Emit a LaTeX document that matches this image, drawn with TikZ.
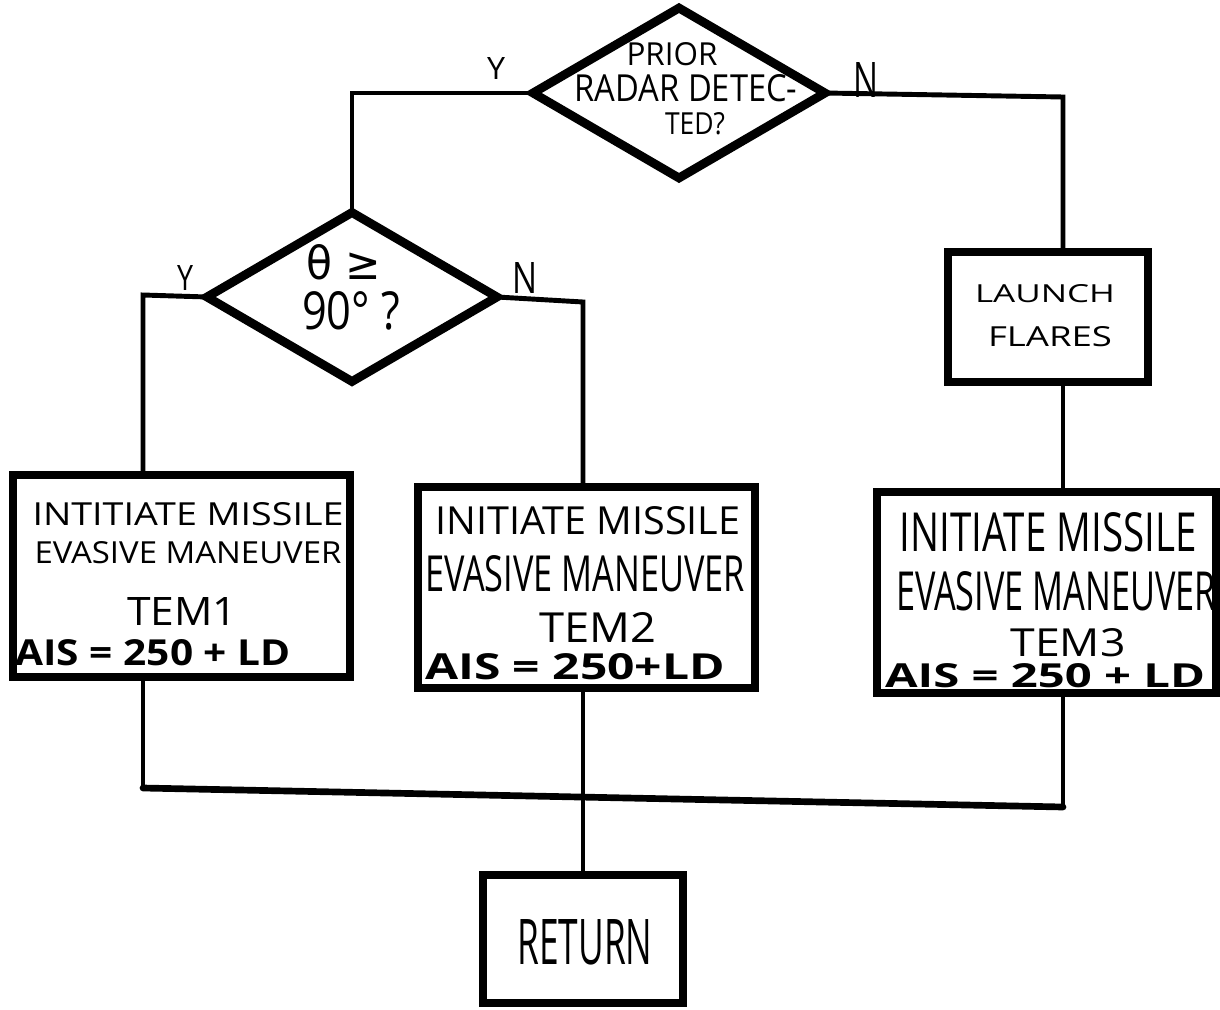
\documentclass[tikz,border=0pt]{standalone}
\usepackage{fontspec}
\usepackage{graphicx}
\setmainfont{Open Sans}
\newfontfamily\symfont{DejaVu Sans}
\usetikzlibrary{shapes.geometric}
% one lettered line squeezed into a given width and cap height
\newcommand{\fitline}[3]{\resizebox{#1}{#2}{#3}}
\begin{document}
\begin{tikzpicture}[x=0.02cm, y=-0.02cm,
  stepbox/.style={draw, rectangle, line width=4.2pt, inner sep=0pt, outer sep=0pt},
  decision/.style={draw, diamond, line width=5pt, inner sep=0pt, outer sep=0pt},
  wire/.style={line width=2.8pt},
  busline/.style={line width=3.8pt, line cap=round},
  txt/.style={inner sep=0pt, outer sep=0pt}]
\fill[white] (0,0) rectangle (1220,1010);
\useasboundingbox (0,0) rectangle (1220,1010);

% decisions
\node[decision, minimum width=5.84cm, minimum height=3.4cm] (d1) at (679,93) {};
\node[txt] (d1a) at (672,54) {\fitline{1.82cm}{0.46cm}{PRIOR}};
\node[txt] (d1b) at (686,88) {\fitline{4.46cm}{0.54cm}{RADAR DETEC-}};
\node[txt] (d1c) at (695,124) {\fitline{1.2cm}{0.44cm}{TED?}};

\node[decision, minimum width=5.8cm, minimum height=3.38cm] (d2) at (352,297) {};
\node[txt] (d2a) at (344,262) {\fitline{1.5cm}{0.7cm}{\symfont θ ≥}};
\node[txt] (d2b) at (351,311) {\fitline{1.96cm}{0.76cm}{90° ?}};

% process boxes
\node[stepbox, minimum width=4cm, minimum height=2.6cm] (flares) at (1048,317) {};
\node[txt] (fl1) at (1045,294) {\fitline{2.8cm}{0.36cm}{LAUNCH}};
\node[txt] (fl2) at (1050,337) {\fitline{2.48cm}{0.4cm}{FLARES}};

\node[stepbox, minimum width=6.74cm, minimum height=4.04cm] (tem1) at (181.5,576) {};
\node[txt] (t1a) at (188,514) {\fitline{6.22cm}{0.46cm}{INTITIATE MISSILE}};
\node[txt] (t1b) at (188,553) {\fitline{6.14cm}{0.44cm}{EVASIVE MANEUVER}};
\node[txt] (t1c) at (182,611) {\fitline{2.2cm}{0.56cm}{TEM1}};
\node[txt] (t1d) at (153,653) {\fitline{5.5cm}{0.52cm}{\bfseries AIS = 250 + LD}};

\node[stepbox, minimum width=6.74cm, minimum height=4.02cm] (tem2) at (586.5,587.5) {};
\node[txt] (t2a) at (588,521) {\fitline{6.1cm}{0.56cm}{INITIATE MISSILE}};
\node[txt] (t2b) at (585,574) {\fitline{6.4cm}{0.72cm}{EVASIVE MANEUVER}};
\node[txt] (t2c) at (598,627) {\fitline{2.34cm}{0.6cm}{TEM2}};
\node[txt] (t2d) at (575,667) {\fitline{6.0cm}{0.52cm}{\bfseries AIS = 250+LD}};

\node[stepbox, minimum width=6.78cm, minimum height=4.02cm] (tem3) at (1046.5,592.5) {};
\node[txt] (t3a) at (1048,532) {\fitline{5.94cm}{0.78cm}{INITIATE MISSILE}};
\node[txt] (t3b) at (1056,591) {\fitline{6.4cm}{0.78cm}{EVASIVE MANEUVER}};
\node[txt] (t3c) at (1068,643) {\fitline{2.3cm}{0.56cm}{TEM3}};
\node[txt] (t3d) at (1045,676) {\fitline{6.4cm}{0.48cm}{\bfseries AIS = 250 + LD}};

\node[stepbox, minimum width=4cm, minimum height=2.56cm] (ret) at (583,939) {};
\node[txt] (rt) at (585,942) {\fitline{2.7cm}{0.9cm}{RETURN}};

% branch labels
\node[txt] (y1) at (496,69) {\fitline{0.36cm}{0.44cm}{Y}};
\node[txt] (n1) at (866,80) {\fitline{0.5cm}{0.7cm}{N}};
\node[txt] (y2) at (185,278) {\fitline{0.32cm}{0.5cm}{Y}};
\node[txt] (n2) at (525,278) {\fitline{0.5cm}{0.62cm}{N}};

% connectors
\coordinate (j2) at (1063,97);
\coordinate (j3) at (143,295);
\coordinate (j4) at (583,302);
\coordinate (m1) at (143,788);
\coordinate (m3) at (1063,807);

\draw[wire] (d1.west) -| (d2.north);
\draw[wire] (d1.east) -- (j2) -- (j2 |- flares.north);
\draw[wire] (j2 |- flares.south) -- (j2 |- tem3.north);
\draw[wire] (d2.west) -- (j3) -- (j3 |- tem1.north);
\draw[wire] (d2.east) -- (j4) -- (j4 |- tem2.north);
\draw[wire] (j3 |- tem1.south) -- (m1);
\draw[wire] (j2 |- tem3.south) -- (m3);
\draw[busline] (m1) -- (m3);
\draw[wire] (j4 |- tem2.south) -- (j4 |- ret.north);
\end{tikzpicture}
\end{document}
